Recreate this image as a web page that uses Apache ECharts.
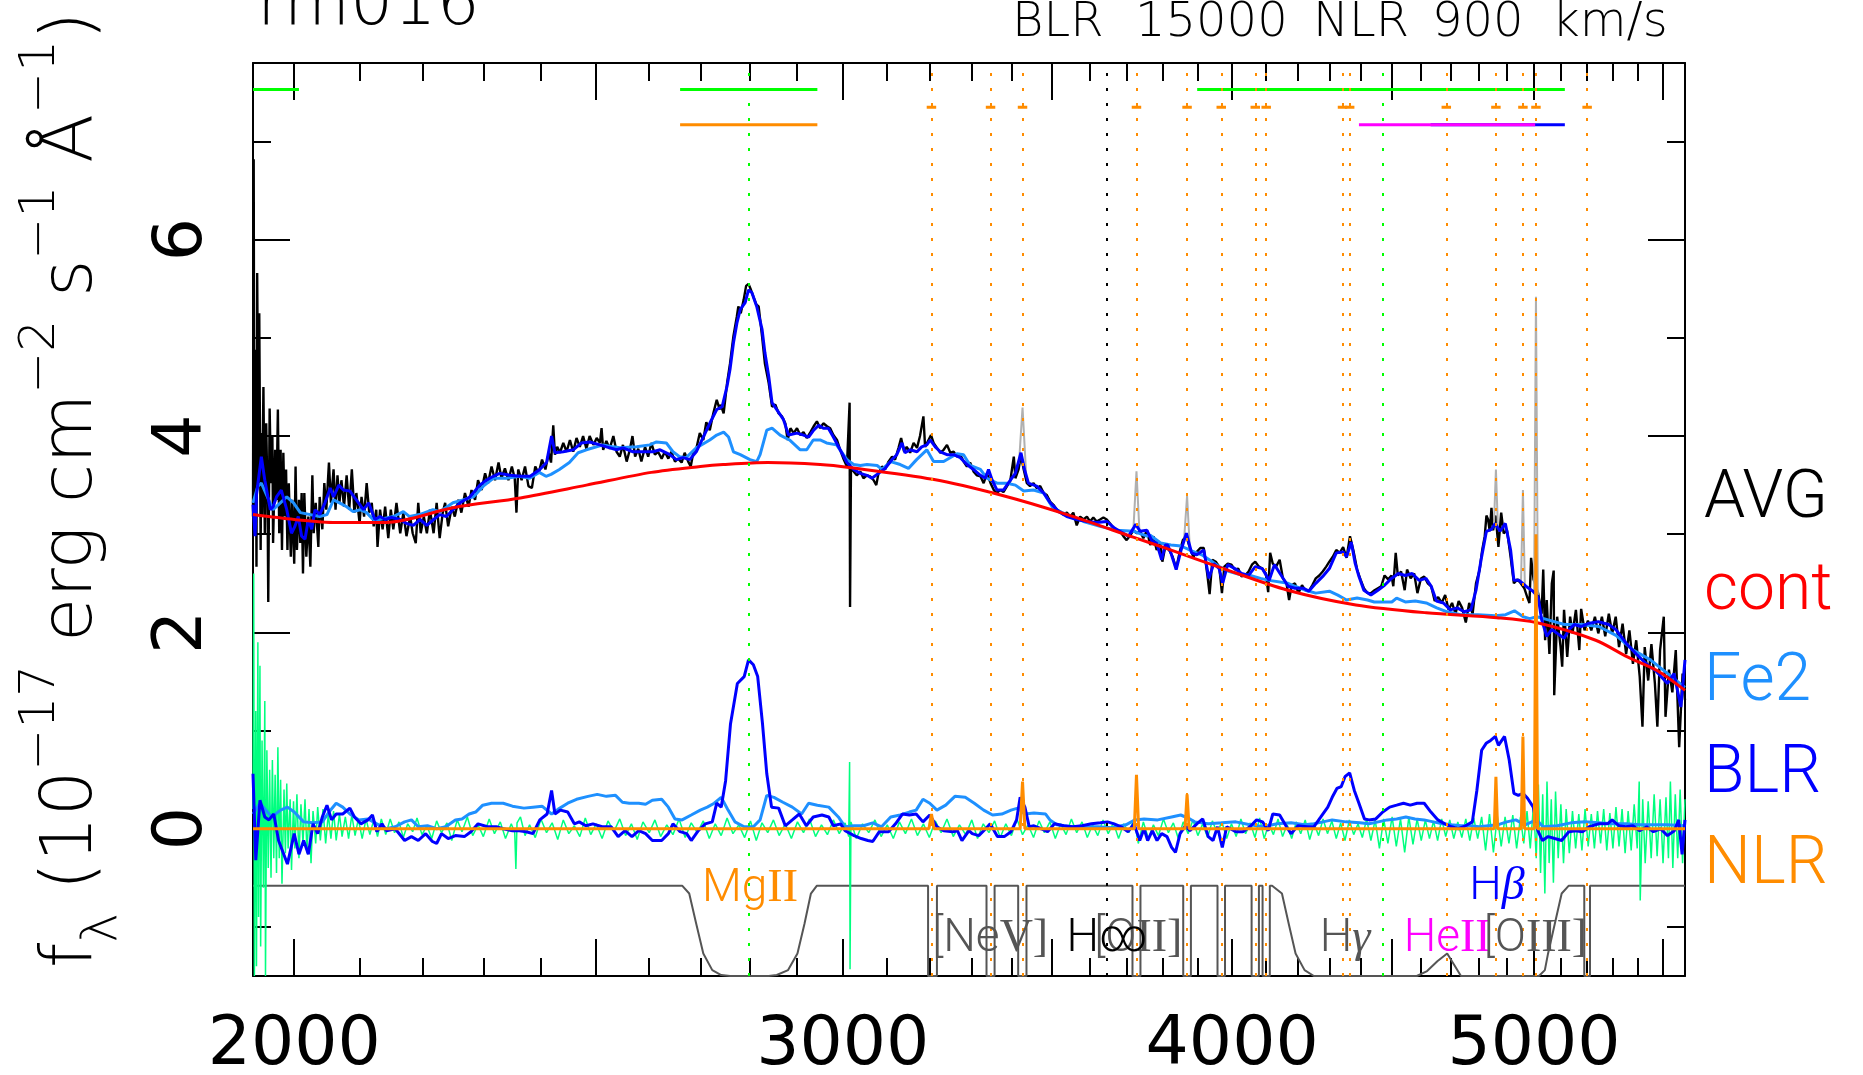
<!DOCTYPE html>
<html><head><meta charset="utf-8">
<script src="https://cdn.jsdelivr.net/npm/echarts@6/dist/echarts.min.js"></script>
<style>html,body{margin:0;padding:0;background:#fff;}#c{width:1863px;height:1075px;}</style>
</head><body><div id="c"></div>
<script>
// ---------------- DATA (wavelength in Angstrom, flux in 1e-17 erg/cm2/s/A) ----------------
const xTickLabels = [2000, 3000, 4000, 5000];
const xMajorTicks = [2000, 2500, 3000, 3500, 4000, 4500, 5000, 5500];
const xMinorTicks = [2000,2100,2200,2300,2400,2500,2600,2700,2800,2900,3000,3100,3200,3300,3400,3500,3600,3700,3800,3900,4000,4100,4200,4300,4400,4500,4600,4700,4800,4900,5000,5100,5200,5300,5400,5500];
const yTickLabels = [0, 2, 4, 6];
const yMajorTicks = [0, 2, 4, 6];
const yMinorTicks = [-1, 1, 3, 5, 7];

const avgData = [[1940,3.18],[1941,6.82],[1942,3.01],[1944,4.88],[1945,2.67],[1946,5.66],[1948,3.52],[1949,5.25],[1951,2.84],[1952,4.03],[1953,3.18],[1955,4.50],[1957,3.01],[1959,4.13],[1961,3.35],[1962,2.31],[1964,4.28],[1966,3.52],[1968,4.00],[1969,2.91],[1972,3.86],[1974,3.35],[1976,4.27],[1978,3.01],[1980,3.86],[1982,2.84],[1984,3.83],[1986,3.18],[1988,3.66],[1990,2.84],[1992,3.52],[1995,2.77],[1997,3.35],[2000,2.70],[2002,3.69],[2004,2.84],[2007,3.35],[2009,2.91],[2011,3.42],[2013,2.60],[2015,3.42],[2018,2.77],[2021,3.18],[2024,2.67],[2027,3.60],[2029,3.01],[2032,3.32],[2036,2.87],[2038,3.38],[2042,3.05],[2045,3.52],[2048,3.25],[2052,3.73],[2055,3.32],[2059,3.66],[2062,3.25],[2065,3.60],[2068,3.32],[2071,3.55],[2075,3.28],[2079,3.60],[2083,3.25],[2087,3.66],[2091,3.22],[2094,3.42],[2099,3.11],[2102,3.38],[2106,3.18],[2110,3.52],[2114,3.22],[2118,3.32],[2121,3.08],[2125,3.25],[2127,2.87],[2131,3.25],[2135,3.05],[2139,3.28],[2144,2.96],[2148,3.25],[2152,3.05],[2157,3.32],[2163,3.01],[2168,3.22],[2173,2.98],[2179,3.18],[2183,3.01],[2188,2.91],[2192,3.32],[2196,3.01],[2201,3.18],[2206,3.01],[2211,3.25],[2217,3.01],[2222,3.32],[2227,2.96],[2232,3.22],[2236,3.32],[2241,3.08],[2247,3.28],[2252,3.18],[2258,3.35],[2263,3.22],[2269,3.42],[2275,3.28],[2280,3.45],[2286,3.35],[2291,3.55],[2297,3.45],[2303,3.62],[2308,3.52],[2314,3.69],[2320,3.55],[2326,3.73],[2331,3.57],[2337,3.67],[2343,3.55],[2349,3.69],[2354,3.57],[2357,3.22],[2360,3.66],[2366,3.55],[2372,3.69],[2378,3.49],[2384,3.47],[2390,3.69],[2396,3.62],[2402,3.76],[2408,3.66],[2414,3.83],[2418,3.73],[2422,4.11],[2425,3.81],[2429,3.89],[2434,3.83],[2440,3.93],[2446,3.84],[2452,3.96],[2458,3.84],[2464,3.98],[2470,3.89],[2476,4.00],[2482,3.87],[2488,4.00],[2495,3.91],[2501,3.98],[2507,3.93],[2510,4.08],[2513,3.86],[2519,3.95],[2525,3.87],[2532,4.00],[2538,3.84],[2544,3.79],[2550,3.91],[2557,3.74],[2563,3.86],[2568,4.00],[2573,3.79],[2579,3.87],[2585,3.74],[2592,3.89],[2598,3.79],[2604,3.93],[2611,3.81],[2617,3.84],[2624,3.77],[2630,3.84],[2637,3.77],[2643,3.84],[2650,3.74],[2656,3.77],[2663,3.73],[2669,3.83],[2676,3.74],[2681,3.69],[2686,3.83],[2692,3.87],[2699,4.03],[2706,3.96],[2712,4.14],[2719,4.06],[2726,4.23],[2733,4.37],[2739,4.27],[2741,4.32],[2747,4.23],[2754,4.54],[2760,4.74],[2767,5.02],[2774,5.22],[2777,5.32],[2782,5.25],[2788,5.39],[2793,5.53],[2798,5.55],[2803,5.49],[2808,5.42],[2814,5.34],[2819,5.32],[2826,5.02],[2832,4.74],[2840,4.54],[2847,4.30],[2854,4.32],[2861,4.23],[2868,4.20],[2875,4.13],[2880,3.96],[2886,4.08],[2893,4.03],[2900,4.08],[2907,4.01],[2914,4.04],[2921,3.98],[2929,4.04],[2936,4.10],[2943,4.15],[2950,4.08],[2957,4.13],[2965,4.10],[2972,4.08],[2979,4.01],[2987,3.96],[2994,3.86],[3002,3.76],[3009,3.69],[3015,4.34],[3016,2.26],[3018,3.66],[3024,3.64],[3031,3.60],[3039,3.64],[3046,3.57],[3054,3.60],[3061,3.59],[3069,3.55],[3075,3.50],[3080,3.62],[3088,3.69],[3095,3.66],[3103,3.74],[3111,3.79],[3118,3.76],[3126,3.88],[3132,3.98],[3139,3.84],[3145,3.89],[3153,3.83],[3161,3.93],[3169,3.88],[3176,4.00],[3184,4.20],[3188,3.89],[3196,3.96],[3202,4.01],[3208,3.93],[3216,3.88],[3224,3.83],[3232,3.86],[3240,3.91],[3248,3.83],[3256,3.84],[3264,3.79],[3272,3.81],[3280,3.74],[3288,3.69],[3296,3.73],[3304,3.64],[3312,3.60],[3321,3.59],[3329,3.52],[3337,3.62],[3346,3.52],[3354,3.45],[3361,3.42],[3370,3.45],[3378,3.43],[3387,3.49],[3395,3.54],[3404,3.79],[3408,3.57],[3416,3.66],[3422,3.81],[3429,3.66],[3437,3.52],[3445,3.49],[3454,3.52],[3462,3.47],[3471,3.49],[3480,3.42],[3488,3.40],[3497,3.33],[3505,3.30],[3514,3.25],[3523,3.23],[3531,3.20],[3540,3.22],[3549,3.18],[3557,3.22],[3566,3.09],[3575,3.18],[3584,3.15],[3593,3.18],[3601,3.13],[3610,3.17],[3619,3.13],[3628,3.15],[3637,3.17],[3646,3.15],[3655,3.11],[3664,3.06],[3673,3.04],[3682,3.03],[3691,2.98],[3700,2.94],[3710,2.99],[3719,3.04],[3728,3.01],[3737,3.03],[3746,2.96],[3756,3.04],[3765,2.89],[3774,2.98],[3783,2.84],[3793,2.91],[3799,2.72],[3807,2.87],[3818,2.84],[3828,2.77],[3838,2.65],[3848,2.82],[3857,2.94],[3867,2.98],[3877,2.86],[3887,2.77],[3897,2.82],[3907,2.86],[3917,2.86],[3927,2.60],[3934,2.39],[3942,2.74],[3952,2.72],[3962,2.67],[3970,2.40],[3977,2.67],[3987,2.70],[3998,2.69],[4008,2.64],[4018,2.65],[4028,2.57],[4038,2.58],[4049,2.62],[4059,2.69],[4069,2.72],[4080,2.67],[4090,2.65],[4101,2.60],[4108,2.41],[4114,2.81],[4122,2.70],[4132,2.67],[4143,2.74],[4153,2.55],[4164,2.50],[4172,2.33],[4180,2.48],[4190,2.50],[4201,2.40],[4212,2.48],[4222,2.43],[4233,2.42],[4244,2.48],[4255,2.55],[4266,2.58],[4277,2.62],[4288,2.67],[4298,2.72],[4309,2.77],[4320,2.84],[4331,2.81],[4342,2.87],[4353,2.76],[4364,2.98],[4376,2.82],[4387,2.64],[4398,2.54],[4409,2.45],[4421,2.40],[4432,2.40],[4444,2.43],[4455,2.45],[4466,2.47],[4477,2.58],[4489,2.54],[4500,2.58],[4506,2.47],[4514,2.81],[4521,2.58],[4532,2.62],[4544,2.43],[4552,2.64],[4564,2.55],[4576,2.60],[4587,2.40],[4599,2.55],[4610,2.57],[4622,2.50],[4634,2.47],[4646,2.32],[4658,2.36],[4670,2.30],[4682,2.38],[4694,2.23],[4706,2.30],[4718,2.19],[4729,2.32],[4741,2.25],[4754,2.10],[4766,2.30],[4778,2.19],[4790,2.50],[4803,2.64],[4812,2.84],[4821,2.98],[4827,3.19],[4833,3.15],[4839,3.03],[4845,3.27],[4851,3.04],[4860,3.19],[4870,2.87],[4880,3.22],[4889,3.01],[4901,3.04],[4914,2.77],[4926,2.50],[4939,2.54],[4951,2.50],[4964,2.45],[4976,2.35],[4983,2.30],[4989,2.76],[4998,2.54],[5015,2.40],[5028,2.19],[5034,2.64],[5041,1.92],[5047,2.33],[5057,1.78],[5066,2.50],[5073,2.63],[5075,1.36],[5086,2.16],[5099,1.85],[5105,1.65],[5112,2.23],[5124,1.75],[5135,2.16],[5144,1.99],[5157,2.23],[5170,1.82],[5177,2.24],[5190,2.02],[5203,2.12],[5216,2.02],[5230,2.16],[5243,1.99],[5257,2.16],[5270,1.96],[5284,2.19],[5297,1.99],[5311,2.16],[5324,1.85],[5338,2.09],[5352,1.78],[5365,2.02],[5379,1.68],[5392,1.92],[5406,1.55],[5417,1.04],[5426,1.85],[5440,1.51],[5453,1.88],[5467,1.48],[5477,1.04],[5488,1.82],[5503,2.16],[5510,1.14],[5524,1.62],[5538,1.39],[5552,1.82],[5566,0.83],[5580,1.58],[5590,1.31]];

const contData = [[1940,3.20],[2000,3.15],[2063,3.12],[2141,3.12],[2249,3.27],[2364,3.37],[2482,3.50],[2604,3.63],[2700,3.69],[2746,3.71],[2838,3.73],[2950,3.71],[3014,3.68],[3206,3.56],[3371,3.40],[3541,3.20],[3718,2.97],[3822,2.84],[3966,2.66],[4168,2.43],[4383,2.28],[4617,2.20],[4864,2.15],[5008,2.10],[5233,1.92],[5357,1.75],[5477,1.61],[5590,1.41]];

const fe2Data = [[1940,3.32],[1947,3.49],[1952,3.52],[1969,3.25],[1989,3.38],[1999,3.32],[2009,3.22],[2038,3.18],[2049,3.20],[2059,3.35],[2068,3.32],[2079,3.28],[2089,3.23],[2100,3.25],[2110,3.22],[2120,3.15],[2130,3.15],[2152,3.18],[2168,3.23],[2178,3.18],[2194,3.20],[2216,3.25],[2227,3.23],[2249,3.32],[2266,3.35],[2283,3.38],[2300,3.49],[2317,3.57],[2340,3.57],[2362,3.59],[2380,3.57],[2397,3.63],[2409,3.59],[2418,3.61],[2433,3.66],[2451,3.73],[2467,3.83],[2482,3.86],[2513,3.91],[2532,3.89],[2544,3.88],[2576,3.89],[2601,3.91],[2614,3.94],[2633,3.93],[2646,3.84],[2659,3.79],[2672,3.78],[2692,3.88],[2719,3.96],[2733,4.01],[2747,4.04],[2757,3.99],[2767,3.84],[2781,3.81],[2801,3.76],[2815,3.74],[2822,3.81],[2836,4.06],[2847,4.08],[2864,4.01],[2884,3.96],[2907,3.86],[2921,3.86],[2935,3.96],[2950,3.96],[2964,3.93],[2986,3.91],[3009,3.76],[3024,3.71],[3039,3.70],[3054,3.71],[3077,3.70],[3088,3.66],[3108,3.74],[3130,3.71],[3149,3.67],[3168,3.76],[3192,3.86],[3208,3.74],[3232,3.74],[3264,3.82],[3280,3.81],[3296,3.70],[3321,3.66],[3337,3.57],[3362,3.52],[3387,3.52],[3408,3.50],[3429,3.44],[3454,3.45],[3480,3.42],[3505,3.26],[3540,3.20],[3584,3.13],[3628,3.08],[3673,3.04],[3719,3.03],[3756,2.98],[3765,2.99],[3794,2.91],[3823,2.89],[3852,2.88],[3882,2.83],[3911,2.79],[3942,2.72],[3962,2.67],[3992,2.62],[4023,2.59],[4054,2.58],[4085,2.55],[4111,2.53],[4169,2.50],[4190,2.47],[4222,2.43],[4255,2.40],[4298,2.42],[4325,2.38],[4353,2.33],[4387,2.35],[4421,2.33],[4443,2.31],[4477,2.31],[4501,2.31],[4517,2.35],[4546,2.31],[4580,2.32],[4617,2.30],[4653,2.25],[4689,2.21],[4736,2.18],[4797,2.18],[4859,2.17],[4896,2.18],[4928,2.22],[4960,2.16],[4984,2.14],[5010,2.16],[5049,2.13],[5113,2.08],[5179,2.08],[5245,2.06],[5312,1.97],[5380,1.82],[5449,1.72],[5519,1.58],[5590,1.44]];

const modelData = [[1940,3.30],[1943,2.98],[1945,3.40],[1952,3.79],[1957,3.55],[1965,3.25],[1969,3.28],[1974,3.38],[1981,3.45],[1989,3.25],[1996,3.01],[2001,3.08],[2006,3.18],[2011,2.98],[2016,2.95],[2021,3.15],[2026,3.05],[2031,3.25],[2038,3.20],[2046,3.32],[2054,3.47],[2059,3.38],[2067,3.50],[2074,3.45],[2084,3.44],[2094,3.35],[2105,3.25],[2113,3.32],[2123,3.15],[2131,3.18],[2139,3.15],[2149,3.17],[2163,3.15],[2173,3.11],[2184,3.09],[2195,3.15],[2206,3.09],[2217,3.15],[2227,3.20],[2238,3.18],[2249,3.25],[2261,3.32],[2277,3.38],[2294,3.50],[2305,3.55],[2317,3.59],[2328,3.62],[2346,3.60],[2363,3.59],[2381,3.59],[2398,3.66],[2410,3.73],[2419,4.00],[2425,3.83],[2440,3.84],[2458,3.86],[2473,3.93],[2488,3.94],[2507,3.91],[2519,3.89],[2538,3.86],[2550,3.88],[2569,3.84],[2588,3.84],[2607,3.84],[2621,3.86],[2640,3.81],[2653,3.76],[2666,3.78],[2679,3.76],[2692,3.84],[2706,3.99],[2719,4.13],[2733,4.27],[2744,4.30],[2754,4.51],[2760,4.68],[2767,4.95],[2774,5.15],[2781,5.29],[2791,5.36],[2798,5.49],[2805,5.46],[2815,5.32],[2826,5.09],[2832,4.85],[2840,4.61],[2847,4.34],[2857,4.27],[2871,4.17],[2882,4.01],[2900,4.03],[2914,4.01],[2925,3.99],[2936,4.06],[2947,4.11],[2957,4.08],[2968,4.08],[2979,3.99],[2994,3.86],[3009,3.73],[3024,3.66],[3039,3.62],[3054,3.60],[3065,3.57],[3080,3.62],[3095,3.67],[3111,3.76],[3122,3.81],[3134,3.93],[3141,3.83],[3153,3.86],[3169,3.84],[3180,3.89],[3192,3.91],[3200,3.96],[3212,3.89],[3224,3.84],[3240,3.81],[3256,3.81],[3272,3.78],[3288,3.71],[3304,3.66],[3321,3.60],[3333,3.57],[3341,3.66],[3350,3.55],[3362,3.45],[3378,3.45],[3395,3.55],[3408,3.62],[3422,3.83],[3431,3.66],[3441,3.52],[3462,3.49],[3480,3.42],[3497,3.32],[3519,3.23],[3540,3.18],[3566,3.15],[3593,3.13],[3619,3.12],[3646,3.13],[3668,3.06],[3691,3.01],[3705,2.98],[3725,3.10],[3737,3.03],[3756,3.04],[3770,2.93],[3783,2.91],[3797,2.74],[3807,2.89],[3814,2.89],[3823,2.81],[3838,2.64],[3852,2.84],[3867,3.01],[3882,2.81],[3897,2.79],[3917,2.84],[3932,2.55],[3946,2.70],[3962,2.65],[3972,2.50],[3987,2.69],[4008,2.65],[4028,2.60],[4049,2.58],[4069,2.67],[4090,2.65],[4111,2.53],[4127,2.69],[4148,2.58],[4169,2.47],[4190,2.45],[4217,2.45],[4233,2.42],[4255,2.50],[4277,2.57],[4298,2.65],[4320,2.81],[4342,2.82],[4353,2.77],[4368,2.92],[4381,2.70],[4392,2.58],[4409,2.43],[4432,2.38],[4455,2.43],[4477,2.48],[4500,2.55],[4523,2.60],[4546,2.58],[4569,2.60],[4593,2.53],[4616,2.55],[4634,2.47],[4652,2.32],[4676,2.30],[4700,2.23],[4724,2.25],[4748,2.21],[4772,2.23],[4790,2.43],[4808,2.74],[4827,3.03],[4845,3.05],[4858,3.11],[4876,3.03],[4895,3.11],[4914,2.84],[4926,2.53],[4945,2.53],[4970,2.47],[4996,2.42],[5015,2.36],[5028,2.13],[5047,1.96],[5066,2.03],[5092,1.98],[5112,1.94],[5131,2.03],[5151,2.08],[5177,2.06],[5203,2.09],[5243,2.11],[5283,2.08],[5311,2.03],[5352,1.89],[5392,1.78],[5433,1.68],[5474,1.60],[5518,1.48],[5545,1.58],[5573,1.24],[5590,1.72]];

const blrData = [[1940,0.56],[1944,-0.32],[1950,0.29],[1957,0.12],[1963,0.09],[1970,0.15],[1977,-0.12],[1990,-0.36],[2000,-0.05],[2007,-0.26],[2014,-0.12],[2021,-0.26],[2028,0.05],[2035,-0.05],[2042,0.12],[2049,0.24],[2056,0.09],[2063,0.15],[2073,0.15],[2084,0.21],[2091,0.12],[2101,0.05],[2112,0.09],[2119,0.14],[2126,-0.03],[2134,0.05],[2141,-0.02],[2155,0.00],[2170,-0.12],[2181,-0.08],[2192,-0.12],[2204,-0.05],[2215,-0.13],[2222,-0.15],[2230,-0.05],[2241,-0.10],[2253,-0.07],[2268,-0.08],[2279,-0.03],[2291,0.05],[2307,0.02],[2322,0.02],[2334,0.00],[2350,-0.02],[2362,-0.02],[2374,-0.03],[2386,-0.05],[2398,0.09],[2411,0.15],[2419,0.39],[2425,0.15],[2435,0.19],[2448,0.17],[2460,0.05],[2469,0.07],[2481,0.03],[2494,0.05],[2511,0.02],[2528,0.02],[2541,-0.08],[2554,-0.02],[2567,-0.08],[2580,-0.02],[2593,-0.05],[2606,-0.12],[2624,-0.12],[2637,-0.05],[2646,0.05],[2660,-0.03],[2673,-0.05],[2682,-0.12],[2696,-0.02],[2710,0.05],[2724,0.07],[2733,0.26],[2742,0.22],[2751,0.49],[2761,1.07],[2775,1.48],[2789,1.55],[2798,1.72],[2808,1.67],[2817,1.55],[2827,1.07],[2836,0.56],[2846,0.22],[2861,0.21],[2875,0.03],[2890,0.09],[2905,0.15],[2920,0.03],[2935,0.12],[2954,0.14],[2969,0.12],[2979,0.03],[2995,0.05],[3005,-0.02],[3025,-0.07],[3041,-0.10],[3056,-0.12],[3067,-0.13],[3082,-0.03],[3103,-0.03],[3119,0.05],[3135,0.15],[3151,0.14],[3167,0.15],[3183,0.07],[3199,0.14],[3216,0.02],[3232,-0.02],[3254,-0.03],[3265,-0.02],[3276,-0.12],[3293,-0.02],[3301,-0.05],[3317,-0.07],[3334,0.00],[3345,0.05],[3363,-0.08],[3380,-0.08],[3397,-0.03],[3411,0.09],[3420,0.32],[3432,0.22],[3443,0.02],[3455,0.03],[3473,0.00],[3490,-0.03],[3508,0.05],[3532,0.03],[3556,0.02],[3580,0.03],[3605,0.05],[3629,0.06],[3648,0.07],[3666,0.05],[3685,0.02],[3704,-0.03],[3720,0.05],[3736,-0.12],[3748,0.00],[3758,-0.12],[3771,-0.02],[3784,-0.12],[3797,-0.05],[3812,-0.08],[3825,-0.19],[3836,-0.24],[3849,-0.05],[3864,0.03],[3877,-0.02],[3897,0.05],[3914,0.10],[3930,-0.08],[3944,-0.12],[3957,0.02],[3971,-0.19],[3984,0.02],[4011,-0.03],[4032,-0.03],[4053,0.02],[4073,0.09],[4091,0.07],[4108,-0.02],[4122,0.15],[4143,0.14],[4164,0.02],[4178,-0.05],[4199,0.03],[4228,0.02],[4249,0.02],[4271,0.12],[4293,0.22],[4307,0.32],[4322,0.41],[4336,0.43],[4348,0.53],[4363,0.57],[4378,0.39],[4393,0.26],[4411,0.10],[4426,0.09],[4448,0.10],[4471,0.17],[4494,0.22],[4517,0.24],[4540,0.26],[4563,0.24],[4586,0.26],[4610,0.26],[4633,0.17],[4657,0.09],[4681,0.05],[4704,0.02],[4728,0.00],[4753,0.03],[4777,0.07],[4793,0.39],[4810,0.80],[4826,0.87],[4842,0.90],[4859,0.94],[4870,0.85],[4892,0.94],[4909,0.70],[4926,0.36],[4942,0.34],[4959,0.36],[4976,0.31],[4997,0.22],[5014,-0.02],[5031,-0.12],[5052,-0.08],[5077,-0.10],[5103,-0.12],[5130,-0.03],[5156,-0.02],[5182,-0.03],[5208,0.02],[5244,0.05],[5279,0.05],[5297,0.09],[5324,0.03],[5351,0.02],[5379,0.03],[5406,-0.02],[5434,0.02],[5461,-0.03],[5490,0.00],[5518,-0.07],[5546,-0.02],[5564,0.09],[5578,-0.26],[5590,0.09]];

const fe2Comp = [[1940,0.15],[1950,0.26],[1967,0.12],[1980,0.19],[1990,0.22],[2000,0.17],[2014,0.07],[2028,0.06],[2042,0.07],[2052,0.17],[2063,0.26],[2073,0.22],[2084,0.15],[2098,0.09],[2112,0.10],[2126,0.05],[2141,0.00],[2155,0.02],[2170,0.07],[2181,0.09],[2192,0.02],[2207,0.03],[2222,0.00],[2237,0.02],[2253,0.09],[2264,0.10],[2276,0.15],[2287,0.17],[2299,0.24],[2314,0.26],[2334,0.26],[2350,0.23],[2370,0.21],[2386,0.22],[2402,0.23],[2419,0.15],[2431,0.20],[2448,0.26],[2464,0.30],[2485,0.33],[2502,0.35],[2519,0.33],[2536,0.34],[2549,0.27],[2562,0.26],[2580,0.26],[2593,0.25],[2606,0.29],[2624,0.30],[2637,0.22],[2650,0.10],[2664,0.09],[2682,0.14],[2700,0.19],[2714,0.22],[2728,0.26],[2742,0.32],[2756,0.19],[2770,0.07],[2789,0.02],[2808,0.02],[2822,0.09],[2836,0.34],[2851,0.32],[2870,0.27],[2890,0.22],[2910,0.15],[2925,0.26],[2944,0.24],[2969,0.22],[2990,0.12],[3005,0.02],[3025,0.03],[3046,0.03],[3067,0.06],[3087,0.02],[3108,0.12],[3130,0.14],[3151,0.17],[3167,0.19],[3183,0.30],[3199,0.26],[3216,0.19],[3237,0.24],[3259,0.33],[3284,0.32],[3306,0.26],[3329,0.19],[3351,0.14],[3374,0.15],[3397,0.19],[3414,0.21],[3432,0.15],[3455,0.16],[3485,0.15],[3496,0.09],[3514,0.04],[3550,0.02],[3587,0.02],[3623,0.02],[3660,0.01],[3698,0.04],[3723,0.09],[3748,0.10],[3786,0.09],[3825,0.12],[3851,0.14],[3877,0.10],[3891,0.07],[3930,0.05],[3971,0.06],[4011,0.07],[4053,0.04],[4094,0.02],[4135,0.05],[4178,0.06],[4220,0.04],[4249,0.05],[4278,0.07],[4307,0.09],[4351,0.07],[4396,0.06],[4426,0.05],[4456,0.07],[4486,0.09],[4517,0.10],[4548,0.12],[4579,0.10],[4610,0.09],[4641,0.07],[4673,0.05],[4704,0.04],[4737,0.03],[4769,0.03],[4801,0.02],[4834,0.03],[4867,0.04],[4900,0.07],[4933,0.09],[4967,0.04],[4992,0.07],[5009,0.09],[5034,0.02],[5086,0.03],[5138,0.06],[5191,0.07],[5244,0.06],[5297,0.05],[5351,0.05],[5406,0.04],[5461,0.04],[5518,0.04],[5590,0.03]];

const nlrData = [[1940,0],[3197,0],[3203,0.15],[3209,0],[3420,0],[3426,0.48],[3432,0],[3721,0],[3727,0.55],[3733,0],[3863,0],[3869,0.35],[3875,0],[4855,0],[4861,0.53],[4867,0],[4953,0],[4959,0.94],[4965,0],[5001,0],[5007,3.0],[5013,0],[5590,0]];

const residData = [[1940,0.2],[1941,2.6],[1942,-1.5],[1944,1.2],[1945,-1.4],[1947,1.9],[1948,-0.9],[1950,1.66],[1951,-1.2],[1953,0.9],[1955,-0.6],[1957,1.3],[1958,-1.5],[1960,0.8],[1962,-0.4],[1964,0.6],[1966,-0.5],[1968,0.7],[1970,-0.3],[1972,0.55],[1974,-0.45],[1976,0.83],[1978,-0.3],[1980,0.5],[1982,-0.56],[1985,0.4],[1987,-0.25],[1989,0.46],[1991,-0.2],[1994,0.3],[1996,-0.42],[1999,0.28],[2001,-0.2],[2004,0.35],[2007,-0.3],[2010,0.25],[2013,-0.15],[2016,0.3],[2019,-0.25],[2022,0.2],[2025,-0.35],[2028,0.18],[2032,-0.15],[2035,0.22],[2039,-0.12],[2043,0.2],[2047,-0.15],[2051,0.15],[2055,-0.1],[2059,0.18],[2063,-0.12],[2068,0.15],[2072,-0.08],[2077,0.12],[2082,-0.1],[2087,0.14],[2092,-0.07],[2097,0.1],[2103,-0.1],[2109,0.1],[2115,-0.06],[2121,0.09],[2127,-0.08],[2133,0.1],[2140,-0.06],[2147,0.1],[2154,-0.04],[2161,0.07],[2168,-0.09],[2175,0.05],[2183,-0.03],[2190,0.11],[2198,-0.06],[2206,0.03],[2214,-0.1],[2222,0.08],[2230,-0.04],[2239,0.06],[2247,-0.12],[2256,0.09],[2264,-0.03],[2273,0.12],[2282,-0.07],[2291,0.04],[2300,-0.08],[2310,0.1],[2319,-0.05],[2329,0.07],[2338,-0.1],[2348,0.05],[2354,-0.04],[2356,-0.41],[2358,0.06],[2364,0.12],[2372,-0.07],[2380,0.04],[2390,-0.09],[2400,0.1],[2410,-0.04],[2420,0.06],[2430,-0.11],[2440,0.09],[2450,-0.05],[2460,0.03],[2470,-0.08],[2480,0.11],[2490,-0.06],[2500,0.05],[2511,-0.1],[2522,0.08],[2533,-0.03],[2544,0.1],[2555,-0.07],[2566,0.05],[2577,-0.11],[2588,0.07],[2600,-0.04],[2611,0.09],[2622,-0.08],[2634,0.04],[2646,-0.06],[2658,0.1],[2670,-0.09],[2682,0.06],[2694,-0.04],[2706,0.08],[2718,-0.1],[2730,0.05],[2742,-0.07],[2754,0.11],[2766,-0.05],[2778,0.04],[2790,-0.09],[2802,0.08],[2814,-0.12],[2826,0.06],[2838,-0.04],[2850,0.09],[2862,-0.07],[2875,0.05],[2888,-0.1],[2901,0.07],[2914,-0.04],[2927,0.1],[2940,-0.08],[2953,0.04],[2966,-0.06],[2979,0.09],[2992,-0.05],[3005,0.06],[3013,-0.08],[3015,0.68],[3016,-1.43],[3018,0.07],[3030,-0.1],[3044,0.05],[3058,-0.04],[3072,0.09],[3086,-0.08],[3100,0.04],[3114,-0.1],[3128,0.07],[3142,-0.05],[3156,0.1],[3170,-0.07],[3184,0.05],[3198,-0.09],[3212,0.08],[3226,-0.04],[3240,0.1],[3255,-0.08],[3270,0.04],[3285,-0.06],[3300,0.09],[3314,-0.1],[3328,0.05],[3342,-0.04],[3356,0.08],[3370,-0.09],[3384,0.05],[3398,-0.07],[3412,0.1],[3426,-0.06],[3440,0.04],[3454,-0.09],[3468,0.08],[3482,-0.04],[3496,0.07],[3510,-0.1],[3524,0.05],[3538,-0.06],[3552,0.1],[3566,-0.04],[3580,0.07],[3594,-0.09],[3608,0.04],[3622,-0.07],[3636,0.09],[3650,-0.05],[3664,0.06],[3678,-0.1],[3692,0.05],[3706,-0.04],[3720,0.1],[3732,-0.15],[3746,0.07],[3760,-0.1],[3774,0.04],[3788,-0.07],[3802,0.1],[3816,-0.04],[3830,0.06],[3844,-0.1],[3858,0.07],[3872,-0.05],[3886,0.09],[3900,-0.07],[3914,0.05],[3928,-0.09],[3942,0.08],[3956,-0.04],[3970,0.07],[3984,-0.1],[3998,0.05],[4012,-0.08],[4026,0.1],[4040,-0.05],[4054,0.06],[4068,-0.09],[4082,0.11],[4096,-0.1],[4110,0.05],[4124,-0.06],[4138,0.1],[4152,-0.08],[4166,0.04],[4180,-0.1],[4194,0.07],[4208,-0.05],[4222,0.09],[4236,-0.11],[4250,0.05],[4264,-0.07],[4278,0.1],[4292,-0.05],[4306,0.08],[4320,-0.1],[4334,0.06],[4348,-0.12],[4362,0.09],[4376,-0.06],[4390,0.05],[4404,-0.09],[4418,0.1],[4432,-0.12],[4446,0.09],[4460,-0.2],[4474,0.1],[4488,-0.15],[4502,0.12],[4516,-0.18],[4530,0.1],[4544,-0.24],[4558,0.12],[4572,-0.16],[4586,0.1],[4600,-0.12],[4614,0.09],[4628,-0.1],[4642,0.08],[4656,-0.12],[4670,0.1],[4684,-0.08],[4698,0.09],[4712,-0.1],[4726,0.07],[4740,-0.09],[4754,0.1],[4768,-0.12],[4782,0.11],[4796,-0.1],[4810,0.12],[4824,-0.22],[4838,0.15],[4852,-0.24],[4866,0.13],[4880,-0.18],[4894,0.12],[4908,-0.15],[4922,0.14],[4936,-0.2],[4950,0.12],[4962,-0.15],[4974,0.18],[4986,-0.2],[4998,0.25],[5008,-0.3],[5016,0.45],[5024,-0.45],[5032,0.35],[5040,-0.66],[5048,0.48],[5056,-0.35],[5064,0.3],[5072,-0.55],[5080,0.38],[5090,-0.3],[5100,0.25],[5110,-0.35],[5120,0.2],[5132,-0.25],[5144,0.18],[5156,-0.2],[5168,0.15],[5180,-0.22],[5192,0.2],[5204,-0.18],[5216,0.15],[5228,-0.2],[5240,0.18],[5252,-0.15],[5264,0.2],[5276,-0.22],[5288,0.16],[5300,-0.2],[5312,0.22],[5324,-0.18],[5336,0.2],[5348,-0.25],[5360,0.18],[5372,-0.22],[5384,0.25],[5396,-0.2],[5404,0.48],[5408,-0.73],[5418,0.3],[5428,-0.35],[5440,0.28],[5452,-0.3],[5464,0.35],[5476,-0.28],[5488,0.3],[5500,-0.35],[5512,0.32],[5522,-0.3],[5530,0.48],[5540,-0.4],[5550,0.35],[5560,-0.3],[5570,0.4],[5580,-0.35],[5590,0.3]];

// fitting-window curve (scaled into the plot's lower strip)
const windowData = [[1940,-0.58],[2664,-0.58],[2678,-0.66],[2692,-0.97],[2706,-1.27],[2724,-1.44],[2742,-1.49],[2760,-1.5],[2840,-1.5],[2857,-1.49],[2881,-1.44],[2901,-1.27],[2916,-0.97],[2930,-0.66],[2943,-0.58],[3195,-0.58],[3195,-1.5],[3216,-1.5],[3216,-0.58],[3336,-0.58],[3336,-1.5],[3356,-1.5],[3356,-0.58],[3415,-0.58],[3415,-1.5],[3436,-1.5],[3436,-0.58],[3716,-0.58],[3716,-1.5],[3738,-1.5],[3738,-0.58],[3858,-0.58],[3858,-1.5],[3880,-1.5],[3880,-0.58],[3957,-0.58],[3957,-1.5],[3979,-1.5],[3979,-0.58],[4058,-0.58],[4058,-1.5],[4080,-1.5],[4080,-0.58],[4091,-0.58],[4091,-1.5],[4113,-1.5],[4113,-0.58],[4120,-0.58],[4150,-0.66],[4171,-0.97],[4192,-1.27],[4220,-1.44],[4249,-1.5],[4585,-1.5],[4620,-1.45],[4655,-1.35],[4689,-1.27],[4712,-1.38],[4737,-1.5],[5018,-1.5],[5040,-1.44],[5052,-1.27],[5077,-0.97],[5103,-0.66],[5130,-0.58],[5189,-0.58],[5189,-1.5],[5211,-1.5],[5211,-0.58],[5590,-0.58]];

// narrow-line peaks in the total model
const greySpikes = [
  [[3417,3.72],[3426,4.29],[3435,3.62]],
  [[3719,3.08],[3727,3.64],[3735,3.04]],
  [[3861,2.97],[3869,3.39],[3877,2.85]],
  [[4854,3.10],[4861,3.66],[4868,3.08]],
  [[4952,2.50],[4959,3.45],[4966,2.48]],
  [[5000,2.42],[5007,5.42],[5014,2.38]]
];

const nlrLines = [3203, 3346, 3426, 3727, 3869, 3968, 4069, 4102, 4340, 4363, 4686, 4861, 4959, 5007, 5200];
const greenLines = [2798, 4471];
const blackLines = [3646];
const greenRanges = [[1940, 2007], [2660, 2944], [3898, 5115]];
const orangeRanges = [[2660, 2944]];
const blueRanges = [[4632, 5115]];
const magentaRanges = [[4393, 5004]];
const rangeLevels = { green: 7.53, lower: 7.17, dash: 7.35 };

// ---------------- CHART ----------------
const FONT = 'Roboto, "DejaVu Sans", sans-serif';
const DJ = '"DejaVu Sans", Roboto, sans-serif';
const SERIF = '"Liberation Serif", "DejaVu Serif", serif';
const C = { black:'#000000', red:'#ff0000', fe2:'#1e90ff', blue:'#0000ff', orange:'#ff8c00', resid:'#00ff7f', lime:'#00ff00', magenta:'#ff00ff', grey:'#555555', lgrey:'#b0b0b0' };

const chart = echarts.init(document.getElementById('c'), null, {renderer:'canvas'});

function xAx(pos, ticks, len, showLine, labels) {
  return { type:'log', logBase:10, min:1940, max:5590, position:pos, gridIndex:0,
    axisLine:{show:showLine, onZero:false, lineStyle:{color:'#000', width:2}},
    axisTick:{show:true, inside:true, length:len, customValues:ticks, lineStyle:{color:'#000', width:2}},
    axisLabel: labels ? {show:true, customValues:labels, formatter:(v)=>String(Math.round(v)), fontSize:68, fontFamily:DJ, fontWeight:'normal', color:'#000', margin:36} : {show:false},
    splitLine:{show:false}, minorTick:{show:false}, minorSplitLine:{show:false} };
}
function yAx(pos, ticks, len, showLine, labels) {
  return { type:'value', min:-1.5, max:7.8, position:pos, gridIndex:0,
    axisLine:{show:showLine, onZero:false, lineStyle:{color:'#000', width:2}},
    axisTick:{show:true, inside:true, length:len, customValues:ticks, lineStyle:{color:'#000', width:2}},
    axisLabel: labels ? {show:true, customValues:labels, rotate:90, formatter:(v)=>String(Math.round(v)), fontSize:68, fontFamily:DJ, fontWeight:'normal', color:'#000', margin:36} : {show:false},
    splitLine:{show:false}, minorTick:{show:false}, minorSplitLine:{show:false} };
}
function line(name, data, color, width, extra) {
  return Object.assign({ name, type:'line', data, xAxisIndex:0, yAxisIndex:0, symbol:'none', showSymbol:false,
    silent:true, animation:false, clip:true, lineStyle:{color, width}, emphasis:{disabled:true} }, extra || {});
}
function segs(ranges, level, color, width) {
  return ranges.map((r, i) => line('seg' + color + i, [[r[0], level], [r[1], level]], color, width));
}

const markData = [].concat(
  nlrLines.map(v => ({xAxis:v, lineStyle:{color:C.orange}})),
  greenLines.map(v => ({xAxis:v, lineStyle:{color:C.lime}})),
  blackLines.map(v => ({xAxis:v, lineStyle:{color:C.black}}))
);

const series = [];
series.push(line('window', windowData, C.grey, 2, {
  markLine:{ silent:true, symbol:['none','none'], label:{show:false}, animation:false,
    lineStyle:{type:[3,12], width:2}, emphasis:{disabled:true}, data:markData }
}));
series.push(line('resid', residData, C.resid, 1.5));
series.push(line('AVG', avgData, C.black, 2.4));
greySpikes.forEach((s, i) => series.push(line('grey' + i, s, C.lgrey, 2)));
series.push(line('Fe2', fe2Data, C.fe2, 3));
series.push(line('Fe2c', fe2Comp, C.fe2, 3));
series.push(line('model', modelData, C.blue, 3));
series.push(line('BLR', blrData, C.blue, 3));
series.push(line('cont', contData, C.red, 3, {smooth:0.3}));
series.push(line('NLR', nlrData, C.orange, 3));
segs(greenRanges, rangeLevels.green, C.lime, 3).forEach(s => series.push(s));
segs(orangeRanges, rangeLevels.lower, C.orange, 3).forEach(s => series.push(s));
segs(blueRanges, rangeLevels.lower, C.blue, 3).forEach(s => series.push(s));
segs(magentaRanges, rangeLevels.lower, C.magenta, 3).forEach(s => series.push(s));
nlrLines.forEach((v, i) => series.push(line('dash' + i, [[v * 0.9965, rangeLevels.dash], [v * 1.0035, rangeLevels.dash]], C.orange, 3)));

chart.setOption({
  animation:false,
  backgroundColor:'#ffffff',
  grid:{left:253, top:63, right:178, bottom:99, containLabel:false, outerBoundsMode:'none', show:false},
  xAxis:[ xAx('bottom', xMajorTicks, 37, true, xTickLabels), xAx('bottom', xMinorTicks, 18, false, null),
          xAx('top', xMajorTicks, 37, true, null), xAx('top', xMinorTicks, 18, false, null) ],
  yAxis:[ yAx('left', yMajorTicks, 37, true, yTickLabels), yAx('left', yMinorTicks, 18, false, null),
          yAx('right', yMajorTicks, 37, true, null), yAx('right', yMinorTicks, 18, false, null) ],
  series
});

// ---------------- TEXT ----------------
const LFS = 46;
function rich(color) {
  return {
    s:{fontSize:LFS, fontFamily:FONT, fontWeight:300, fill:color, lineHeight:LFS},
    r:{fontSize:LFS, fontFamily:SERIF, fill:color, lineHeight:LFS},
    g:{fontSize:LFS, fontFamily:SERIF, fontStyle:'italic', fill:color, lineHeight:LFS}
  };
}
const lineLabels = [
  {wave:2801, base:-0.75, text:'{s|Mg}{r|II}', color:C.orange},
  {wave:4865, base:-0.73, text:'{s|H}{g|β}', color:C.blue},
  {wave:3345, base:-1.26, text:'{s|[Ne}{r|V]}', color:C.grey},
  {wave:3732, base:-1.26, text:'{s|[O}{r|II]}', color:C.grey},
  {wave:3647, base:-1.26, text:'{s|H∞}', color:C.black},
  {wave:4348, base:-1.26, text:'{s|H}{g|γ}', color:C.grey},
  {wave:4689, base:-1.26, text:'{s|He}{r|II}', color:C.magenta},
  {wave:5005, base:-1.26, text:'{s|[O}{r|III]}', color:C.grey}
];
const graphics = [];
lineLabels.forEach(d => {
  const p = chart.convertToPixel({gridIndex:0}, [d.wave, d.base]);
  graphics.push({type:'text', x:p[0], y:p[1] - 0.29 * LFS, silent:true, z:100,
    style:{text:d.text, rich:rich(d.color), align:'center', verticalAlign:'middle'}});
});
function txt(x, y, text, fs, color, family, weight) {
  return {type:'text', x, y, silent:true, z:100,
    style:{text, fontSize:fs, fontFamily:family || FONT, fontWeight:weight || 300, fill:color, align:'left', verticalAlign:'middle'}};
}
// legend
[['AVG', C.black, 520], ['cont', C.red, 612], ['Fe2', C.fe2, 703], ['BLR', C.blue, 795], ['NLR', C.orange, 886]]
  .forEach(l => graphics.push(txt(1704, l[2] - 0.29 * 66, l[0], 66, l[1])));
// titles
graphics.push(txt(257, 27 - 0.297 * 68, 'rm016', 68, C.black, DJ, 200));
[['BLR', 1012], ['15000', 1135], ['NLR', 1313], ['900', 1432], ['km/s', 1552]]
  .forEach(w => graphics.push(txt(w[1], 38 - 0.297 * 48, w[0], 48, C.black, DJ, 200)));
// y-axis title
graphics.push({type:'text', x:72, y:968, rotation:Math.PI / 2, silent:true, z:100,
  style:{text:'{m|f}{sb|λ}{m| (10}{sp|−17}{m| erg cm}{sp|−2}{m| s}{sp|−1}{m| Å}{sp|−1}{m|)}',
    align:'left', verticalAlign:'middle',
    rich:{
      m:{fontSize:72, fontFamily:DJ, fontWeight:200, fill:'#000', lineHeight:112, verticalAlign:'middle'},
      sp:{fontSize:50, fontFamily:DJ, fontWeight:200, fill:'#000', lineHeight:50, verticalAlign:'top'},
      sb:{fontSize:50, fontFamily:DJ, fontWeight:200, fill:'#000', lineHeight:50, verticalAlign:'bottom'}
    }}});
chart.setOption({graphic:graphics});
</script>
</body></html>
